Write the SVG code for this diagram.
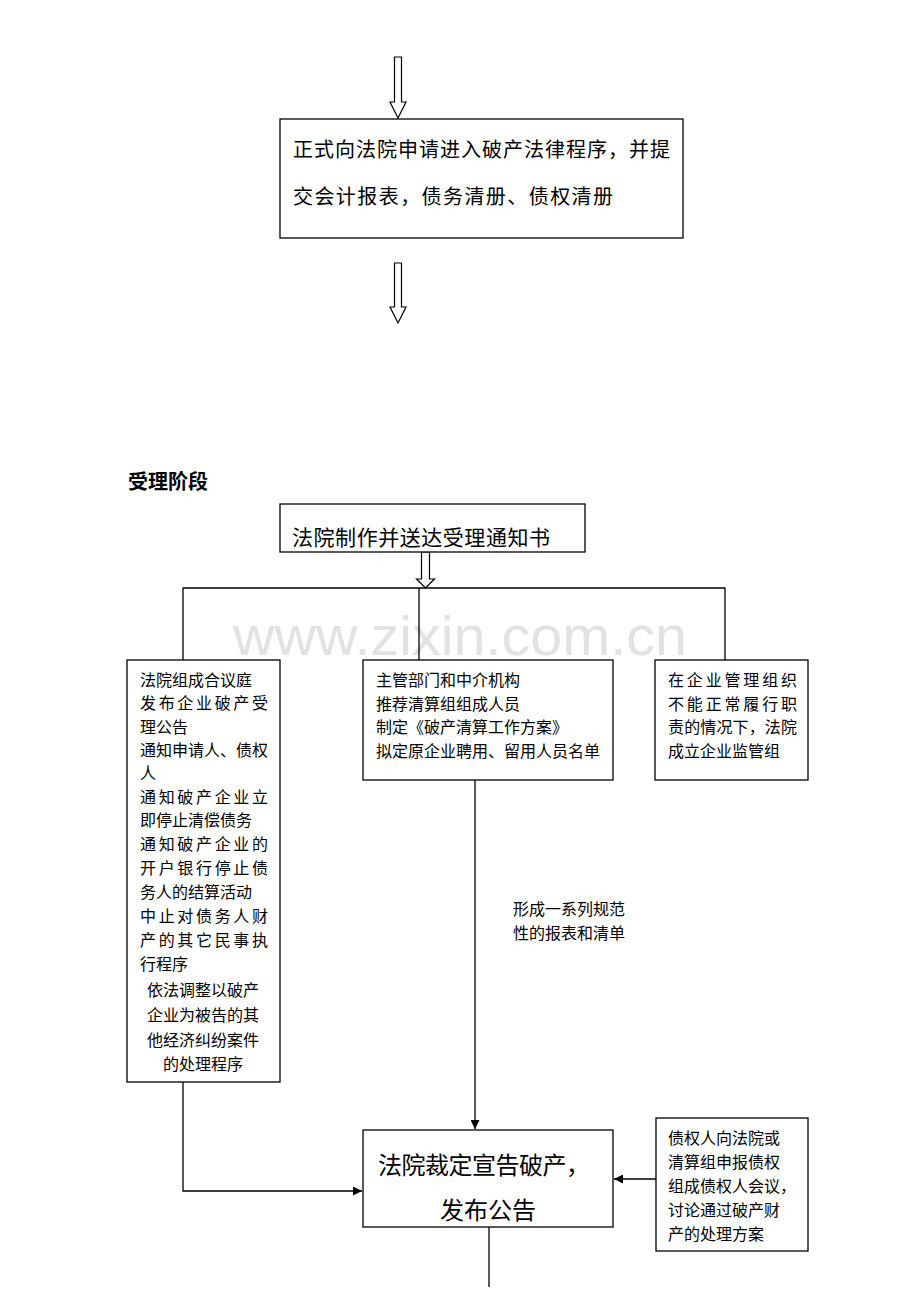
<svg xmlns="http://www.w3.org/2000/svg" width="920" height="1302" viewBox="0 0 920 1302">
<style>
.box{fill:#fff;stroke:#000;stroke-width:1.3}
.t{font-family:"Noto Sans CJK SC","Noto Sans CJK JP",sans-serif;fill:#000}
.s16{font-size:16px}
.ln{stroke:#000;stroke-width:1.3;fill:none}
.hollow{fill:#fff;stroke:#000;stroke-width:1.2}
</style>
<defs>
<marker id="ah" viewBox="0 0 10 10" refX="10" refY="5" markerWidth="9" markerHeight="9" markerUnits="userSpaceOnUse" orient="auto">
<path d="M0,0 L10,5 L0,10 Z" fill="#000"/>
</marker>
</defs>
<rect width="920" height="1302" fill="#fff"/>

<text x="233" y="655" textLength="454" lengthAdjust="spacingAndGlyphs" style="font-family:'Liberation Sans',Arial,sans-serif;font-size:56px;fill:#e2e2e2">www.zixin.com.cn</text>

<g id="connectors">
<polygon class="hollow" points="394.5,57 401.5,57 401.5,102 406,102 398,118 390,102 394.5,102"/>
<polygon class="hollow" points="394.5,263 401.5,263 401.5,307 406,307 398,323 390,307 394.5,307"/>
<polygon class="hollow" points="421.5,552 429.5,552 429.5,579 434.5,579 425.5,588 416.5,579 421.5,579"/>
<polyline class="ln" points="183,660 183,588 725,588 725,660"/>
<line class="ln" x1="419" y1="588" x2="419" y2="660"/>
<line class="ln" x1="475" y1="780" x2="475" y2="1129" marker-end="url(#ah)"/>
<polyline class="ln" points="183,1082 183,1191 362,1191" marker-end="url(#ah)"/>
<line class="ln" x1="656" y1="1179" x2="614" y2="1179" marker-end="url(#ah)"/>
<line class="ln" x1="489" y1="1227" x2="489" y2="1287"/>
</g>

<g id="n_apply">
<rect class="box" x="280" y="119" width="403" height="119"/>
<text class="t" x="293" y="157" style="font-size:20px" textLength="377" lengthAdjust="spacing">正式向法院申请进入破产法律程序，并提</text>
<text class="t" x="293" y="204" style="font-size:20px" textLength="320" lengthAdjust="spacing">交会计报表，债务清册、债权清册</text>
</g>

<g id="n_title">
<text class="t" x="128" y="489" style="font-size:20px;font-weight:bold">受理阶段</text>
</g>

<g id="n_notice">
<rect class="box" x="280" y="504" width="305" height="48"/>
<text class="t" x="292" y="545" style="font-size:21px" textLength="258" lengthAdjust="spacing">法院制作并送达受理通知书</text>
</g>

<g id="n_left">
<rect class="box" x="127" y="660" width="153" height="422"/>
<text class="t s16" x="140" y="686">法院组成合议庭</text>
<text class="t s16" x="140" y="709" textLength="128" lengthAdjust="spacing">发布企业破产受</text>
<text class="t s16" x="140" y="733">理公告</text>
<text class="t s16" x="140" y="756" textLength="128" lengthAdjust="spacing">通知申请人、债权</text>
<text class="t s16" x="140" y="779">人</text>
<text class="t s16" x="140" y="803" textLength="128" lengthAdjust="spacing">通知破产企业立</text>
<text class="t s16" x="140" y="826">即停止清偿债务</text>
<text class="t s16" x="140" y="850" textLength="128" lengthAdjust="spacing">通知破产企业的</text>
<text class="t s16" x="140" y="874" textLength="128" lengthAdjust="spacing">开户银行停止债</text>
<text class="t s16" x="140" y="898">务人的结算活动</text>
<text class="t s16" x="140" y="922" textLength="128" lengthAdjust="spacing">中止对债务人财</text>
<text class="t s16" x="140" y="946" textLength="128" lengthAdjust="spacing">产的其它民事执</text>
<text class="t s16" x="140" y="970">行程序</text>
<text class="t s16" x="203" y="996" text-anchor="middle">依法调整以破产</text>
<text class="t s16" x="203" y="1021" text-anchor="middle">企业为被告的其</text>
<text class="t s16" x="203" y="1046" text-anchor="middle">他经济纠纷案件</text>
<text class="t s16" x="203" y="1070" text-anchor="middle">的处理程序</text>
</g>

<g id="n_middle">
<rect class="box" x="363" y="660" width="250" height="120"/>
<text class="t s16" x="376" y="686">主管部门和中介机构</text>
<text class="t s16" x="376" y="710">推荐清算组组成人员</text>
<text class="t s16" x="376" y="733">制定《破产清算工作方案》</text>
<text class="t s16" x="376" y="757">拟定原企业聘用、留用人员名单</text>
</g>

<g id="n_right">
<rect class="box" x="655" y="660" width="153" height="120"/>
<text class="t s16" x="668" y="686" textLength="129" lengthAdjust="spacing">在企业管理组织</text>
<text class="t s16" x="668" y="710" textLength="129" lengthAdjust="spacing">不能正常履行职</text>
<text class="t s16" x="668" y="733" textLength="129" lengthAdjust="spacing">责的情况下，法院</text>
<text class="t s16" x="668" y="757">成立企业监管组</text>
</g>

<g id="n_label">
<text class="t s16" x="513" y="915">形成一系列规范</text>
<text class="t s16" x="513" y="939">性的报表和清单</text>
</g>

<g id="n_declare">
<rect class="box" x="363" y="1130" width="250" height="97"/>
<text class="t" x="378" y="1174" style="font-size:24px" textLength="212" lengthAdjust="spacing">法院裁定宣告破产，</text>
<text class="t" x="440" y="1219" style="font-size:24px">发布公告</text>
</g>

<g id="n_creditor">
<rect class="box" x="656" y="1118" width="152" height="133"/>
<text class="t s16" x="668" y="1144">债权人向法院或</text>
<text class="t s16" x="668" y="1168">清算组申报债权</text>
<text class="t s16" x="668" y="1192">组成债权人会议，</text>
<text class="t s16" x="668" y="1216">讨论通过破产财</text>
<text class="t s16" x="668" y="1240">产的处理方案</text>
</g>
</svg>
